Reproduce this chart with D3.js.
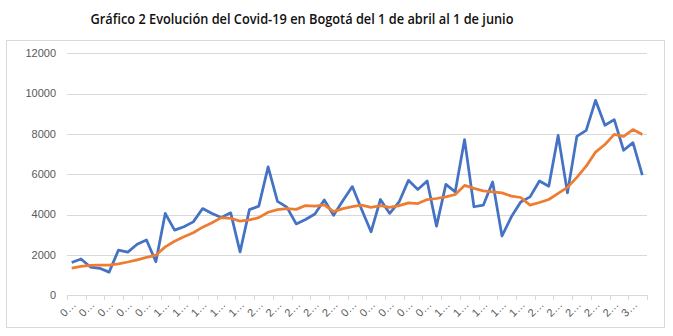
<!DOCTYPE html>
<html><head><meta charset="utf-8">
<script src="https://cdn.jsdelivr.net/npm/d3@7"></script>
<style>html,body{margin:0;padding:0;background:#fff;}svg{display:block;}</style>
</head><body>
<svg id="chart" width="673" height="336"></svg>
<script>
const title = "Gráfico 2 Evolución del Covid-19 en Bogotá del 1 de abril al 1 de junio";
// 62 days: 1 April .. 1 June
const dates = [];
for (let d = 1; d <= 30; d++) dates.push(String(d).padStart(2, "0") + "/04/2020");
for (let d = 1; d <= 31; d++) dates.push(String(d).padStart(2, "0") + "/05/2020");
dates.push("01/06/2020");
const dailyValues = [1630,1800,1400,1340,1150,2240,2140,2530,2740,1660,
  4060,3230,3400,3640,4300,4060,3860,4090,2150,4250,
  4420,6370,4660,4370,3540,3760,4030,4730,3970,4700,
  5390,4250,3150,4750,4060,4630,5700,5250,5670,3430,
  5500,5130,7720,4390,4470,5620,2940,3890,4630,4880,
  5670,5410,7930,5080,7880,8180,9670,8430,8710,7190,
  7570,5960];
const averageValues = [1350,1430,1480,1500,1500,1560,1650,1760,1880,1990,
  2400,2680,2900,3100,3380,3600,3850,3820,3680,3740,
  3850,4120,4250,4300,4260,4450,4420,4480,4150,4300,
  4400,4470,4360,4450,4360,4450,4580,4550,4750,4800,
  4880,5000,5450,5300,5180,5130,5080,4920,4850,4470,
  4600,4750,5050,5350,5850,6400,7100,7480,7980,7880,
  8220,7970];
const yTicks = [0,2000,4000,6000,8000,10000,12000];

const svg = d3.select("#chart");
const plot = {left: 67, right: 647, top: 53.3, bottom: 295.3};

svg.append("rect").attr("x", 6.5).attr("y", 40.5).attr("width", 658).attr("height", 287)
  .attr("fill", "#fff").attr("stroke", "#d9d9d9").attr("stroke-width", 1);

svg.append("text").attr("x", 90.5).attr("y", 23.5).text(title)
  .attr("font-family", "Open Sans, Liberation Sans, Arial, sans-serif").attr("font-size", 13.5)
  .attr("font-weight", 600)
  .attr("fill", "#111").attr("textLength", 423).attr("lengthAdjust", "spacingAndGlyphs");

const x = d3.scaleBand().domain(d3.range(dates.length)).range([plot.left, plot.right]);
const y = d3.scaleLinear().domain([0, 12000]).range([plot.bottom, plot.top]);

// gridlines
svg.append("g").selectAll("line").data(yTicks.filter(t => t > 0)).join("line")
  .attr("x1", plot.left).attr("x2", plot.right)
  .attr("y1", d => Math.round(y(d)) + 0.5).attr("y2", d => Math.round(y(d)) + 0.5)
  .attr("stroke", "#d9d9d9").attr("stroke-width", 1);

// y labels
svg.append("g").selectAll("text").data(yTicks).join("text")
  .attr("x", 56).attr("y", d => y(d)).attr("dy", "0.35em")
  .attr("text-anchor", "end").attr("font-family", "Liberation Sans, Arial, sans-serif")
  .attr("font-size", 11).attr("fill", "#595959").text(d => d);

// x axis
const xAxis = svg.append("g");
xAxis.append("line").attr("x1", plot.left).attr("x2", plot.right)
  .attr("y1", Math.round(plot.bottom) + 0.5).attr("y2", Math.round(plot.bottom) + 0.5)
  .attr("stroke", "#d9d9d9");
const tickIdx = d3.range(0, dates.length + 1, 2);
xAxis.selectAll("line.tick").data(tickIdx).join("line").attr("class", "tick")
  .attr("x1", i => Math.round(plot.left + i * x.step()) + 0.5)
  .attr("x2", i => Math.round(plot.left + i * x.step()) + 0.5)
  .attr("y1", Math.round(plot.bottom)).attr("y2", Math.round(plot.bottom) + 5)
  .attr("stroke", "#d9d9d9");
const labelIdx = d3.range(0, dates.length - 1, 2);
xAxis.selectAll("text").data(labelIdx).join("text")
  .attr("transform", i => `translate(${x(i) + x.bandwidth() / 2 + 5},${plot.bottom + 10}) rotate(-45)`)
  .attr("text-anchor", "end").attr("font-family", "Liberation Sans, Arial, sans-serif")
  .attr("font-size", 11).attr("fill", "#595959")
  .text(i => dates[i].charAt(0) + "\u2026");

const line = d3.line().x((d, i) => x(i) + x.bandwidth() / 2).y(d => y(d));
svg.append("path").datum(dailyValues).attr("d", line).attr("fill", "none")
  .attr("stroke", "#4472C4").attr("stroke-width", 2.75).attr("stroke-linejoin", "round");
svg.append("path").datum(averageValues).attr("d", line).attr("fill", "none")
  .attr("stroke", "#ED7D31").attr("stroke-width", 2.75).attr("stroke-linejoin", "round");
</script>
</body></html>
